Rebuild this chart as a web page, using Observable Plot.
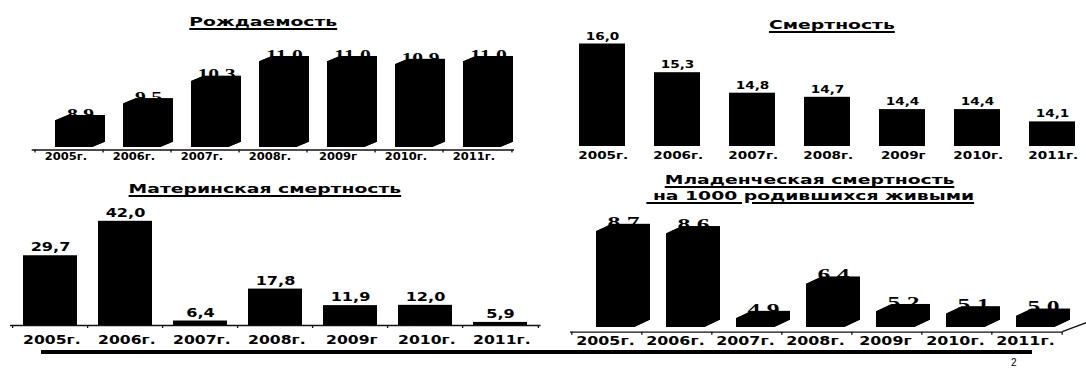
<!DOCTYPE html>
<html><head><meta charset="utf-8">
<script src="https://cdn.jsdelivr.net/npm/d3@7"></script>
<script src="https://cdn.jsdelivr.net/npm/@observablehq/plot@0.6"></script>
<style>
html,body{margin:0;padding:0;background:#fff;}
#root{position:relative;width:1086px;height:368px;overflow:hidden;background:#fff;}
.panel{position:absolute;}
.title{position:absolute;width:400px;font-family:"DejaVu Sans";font-weight:bold;font-size:12.5px;line-height:12.5px;text-align:center;white-space:pre;color:#000;}
.title span{display:inline-block;text-decoration:underline;text-decoration-thickness:1.5px;text-underline-offset:1.5px;transform:scaleX(1.5);transform-origin:50% 50%;}
.rule{position:absolute;background:#000;}
.page{position:absolute;font-family:"Liberation Sans";font-size:10px;line-height:10px;color:#000;}
</style></head><body><div id="root"></div>
<script>
// ---- data ----
const years = ["2005г.", "2006г.", "2007г.", "2008г.", "2009г", "2010г.", "2011г."];
const birthRate = [8.9, 9.5, 10.3, 11.0, 11.0, 10.9, 11.0];
const deathRate = [16.0, 15.3, 14.8, 14.7, 14.4, 14.4, 14.1];
const maternalMortality = [29.7, 42.0, 6.4, 17.8, 11.9, 12.0, 5.9];
const infantMortality = [8.7, 8.6, 4.9, 6.4, 5.2, 5.1, 5.0];
const titles = {
  birth: ["Рождаемость"],
  death: ["Смертность"],
  maternal: ["Материнская смертность"],
  infant: ["Младенческая смертность", " на 1000 родившихся живыми"]
};

const root = document.getElementById("root");
const fmt = v => v.toFixed(1).replace(".", ",");

function stretchGroup(g, sx) {
  if (!g) return;
  g.querySelectorAll("text").forEach(t => {
    const tr = t.getAttribute("transform") || "";
    t.setAttribute("transform", tr + ` scale(${sx},1)`);
  });
}

function makeChart(cfg) {
  const data = years.map((year, i) => ({year, value: cfg.values[i]}));
  const n = years.length;
  const step = (cfg.xRange[1] - cfg.xRange[0]) / n;
  const axisY = cfg.yBase + (cfg.axisOff || 0);
  const marks = [];
  if (cfg.axis) {
    const st = {stroke: "#111", strokeWidth: 1.3};
    marks.push(Plot.ruleY([cfg.V0], {dy: cfg.axisOff, ...st}));
    marks.push(Plot.ruleX(years, {x: d => d, dx: -step / 2, insetTop: axisY, ...st}));
    marks.push(Plot.ruleX(years.slice(-1), {x: d => d, dx: step / 2, insetTop: axisY, ...st}));
  }
  const D = cfg.depthX || 0;
  for (let k = 0; k <= D; k++) {
    marks.push(Plot.barY(data, {
      x: "year", y1: cfg.V0, y2: "value", fill: "black",
      dx: cfg.barDx + k, dy: D ? -k * cfg.depthY / D : 0
    }));
  }
  marks.push(Plot.text(data, {
    x: "year", y: "value", text: d => fmt(d.value),
    dx: cfg.valDx, dy: cfg.valDy, lineAnchor: "bottom",
    fontFamily: cfg.valFamily, fontWeight: "bold", fontSize: cfg.valSize,
    fill: "black"
  }));
  marks.push(Plot.text(years, {
    x: d => d, y: cfg.V0, text: d => d,
    dx: cfg.tickDx, dy: cfg.tickDy, lineAnchor: "middle",
    fontFamily: "DejaVu Sans", fontWeight: "bold", fontSize: cfg.tickSize,
    fill: "black"
  }));
  const svg = Plot.plot({
    width: 543, height: cfg.height,
    marginTop: 0,
    marginLeft: cfg.xRange[0],
    marginRight: Math.max(0, 543 - cfg.xRange[1]),
    marginBottom: cfg.height - axisY - 3,
    x: {type: "band", domain: years, range: cfg.xRange, paddingInner: cfg.pInner, paddingOuter: cfg.pInner / 2, axis: null},
    y: {domain: [cfg.V0, cfg.vTop], range: [cfg.yBase, cfg.yTop], axis: null},
    style: {background: "transparent", overflow: "visible"},
    marks
  });
  // horizontal stretch of the two text layers (value labels first, then category labels)
  const textGroups = svg.querySelectorAll('g[aria-label="text"]');
  stretchGroup(textGroups[0], cfg.valSx);
  stretchGroup(textGroups[1], cfg.tickSx);
  if (cfg.floorEdge) {
    const x0 = cfg.xRange[1];
    d3.select(svg).append("line")
      .attr("x1", x0).attr("y1", axisY)
      .attr("x2", x0 + 45).attr("y2", axisY - 45 * 0.38)
      .attr("stroke", "#111").attr("stroke-width", 1.3);
  }
  const div = document.createElement("div");
  div.className = "panel";
  div.style.left = cfg.left + "px";
  div.style.top = cfg.top + "px";
  div.appendChild(svg);
  root.appendChild(div);
}

function addTitle(lines, cx, baselines) {
  lines.forEach((t, i) => {
    const d = document.createElement("div");
    d.className = "title";
    d.style.left = (cx - 200) + "px";
    d.style.top = (baselines[i] - 10.6) + "px";
    const s = document.createElement("span");
    s.textContent = t;
    d.appendChild(s);
    root.appendChild(d);
  });
}

makeChart({
  left: 0, top: 0, height: 170, values: birthRate,
  V0: 7.94, vTop: 11, yBase: 147, yTop: 61,
  xRange: [31.7, 514], pInner: 0.434, barDx: 5, depthX: 12, depthY: 5,
  axis: true, axisOff: 2.5,
  tickDx: -3.5, tickDy: 9, tickSize: 10, tickSx: 1.15,
  valDx: 11, valDy: -1.8, valFamily: "Liberation Serif", valSize: 14, valSx: 1.55
});
makeChart({
  left: 543, top: 0, height: 170, values: deathRate,
  V0: 13.5, vTop: 16, yBase: 146, yTop: 43.5,
  xRange: [21.4, 546.6], pInner: 0.382, barDx: 0, depthX: 0,
  axis: false, axisOff: 0,
  tickDx: 0.8, tickDy: 9, tickSize: 10.5, tickSx: 1.29,
  valDx: 0, valDy: -4.5, valFamily: "DejaVu Sans", valSize: 10.5, valSx: 1.3
});
makeChart({
  left: 0, top: 170, height: 198, values: maternalMortality,
  V0: 4.8, vTop: 42, yBase: 155, yTop: 50.8,
  xRange: [10, 540.6], pInner: 0.277, barDx: 0, depthX: 0,
  axis: true, axisOff: 0,
  tickDx: 1.4, tickDy: 15, tickSize: 11.5, tickSx: 1.36,
  valDx: 0, valDy: -4.5, valFamily: "DejaVu Sans", valSize: 12, valSx: 1.34
});
makeChart({
  left: 543, top: 170, height: 198, values: infantMortality,
  V0: 4.5, vTop: 8.7, yBase: 157, yTop: 60.8,
  xRange: [27, 519.3], pInner: 0.44, barDx: 9, depthX: 15, depthY: 7,
  axis: true, axisOff: 4.7, floorEdge: true,
  tickDx: -1.5, tickDy: 13.7, tickSize: 11.5, tickSx: 1.38,
  valDx: 16.5, valDy: -3.7, valFamily: "Liberation Serif", valSize: 16, valSx: 1.6
});

addTitle(titles.birth, 263, [27]);
addTitle(titles.death, 832, [30]);
addTitle(titles.maternal, 265, [194]);
addTitle(titles.infant, 810, [185, 200.7]);

const line = document.createElement("div");
line.className = "rule";
Object.assign(line.style, {left: "40.7px", top: "350px", width: "991px", height: "3.5px"});
root.appendChild(line);

const page = document.createElement("div");
page.className = "page";
page.textContent = "2";
Object.assign(page.style, {left: "1011px", top: "357.5px"});
root.appendChild(page);
</script>
</body></html>
